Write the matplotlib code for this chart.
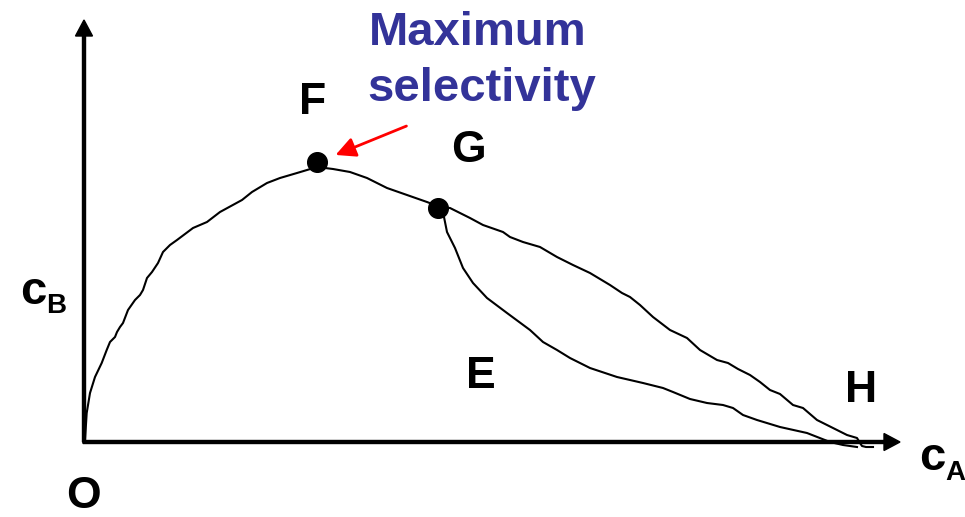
import matplotlib.pyplot as plt

# upper branch O -> F -> G -> H (picture coordinates, y grows downwards)
upper_x = [84, 85, 86.7, 90, 95, 101.7, 106.7, 110, 115, 117, 120, 123, 128, 135, 140, 143,
           147, 152, 158, 163, 170, 177, 193, 207, 220, 242, 252, 267, 280, 297, 317, 333,
           350, 367, 387, 407, 427, 440, 450, 470, 483, 503, 510, 523, 540, 557, 573, 590,
           610, 622, 630, 640, 653, 670, 687, 700, 717, 728, 738, 750, 760, 770, 780, 793,
           803, 817, 833, 847, 857, 860, 862, 866, 873]
upper_y = [442, 440, 413, 393, 377, 363, 350, 342, 337, 332, 327, 323, 310, 300, 295, 290,
           278, 272, 263, 252, 245, 240, 228, 222, 212, 200, 192, 183, 178, 173, 167, 169,
           172, 178, 188, 195, 202, 207, 208, 218, 225, 232, 237, 242, 247, 257, 265, 273,
           285, 293, 297, 305, 317, 330, 338, 350, 360, 363, 369, 375, 382, 390, 394, 405,
           408, 420, 428, 435, 438, 443, 446, 447, 447]

# lower branch G -> E -> H
lower_x = [440, 443, 447, 455, 463, 473, 487, 507, 530, 543, 557, 570, 590, 617, 643, 663,
           673, 690, 707, 723, 733, 743, 757, 780, 807, 830, 843, 857]
lower_y = [208, 212, 232, 248, 268, 283, 298, 313, 330, 342, 350, 358, 368, 377, 383, 388,
           392, 399, 403, 405, 408, 415, 420, 427, 433, 442, 445, 447]

points_x = [317, 438]
points_y = [162, 208]

point_labels = ['F', 'G', 'E', 'H', 'O']
label_x = [313, 468, 481, 861, 83]
label_y = [103, 150, 376, 391, 497]

fig = plt.figure(figsize=(9.65, 5.17), dpi=100)
ax = fig.add_axes([0, 0, 1, 1])
ax.set_xlim(0, 965)
ax.set_ylim(517, 0)
ax.axis('off')

# axes with arrows
ax.arrow(84, 442, 0, -422, width=3, head_width=17, head_length=16,
         length_includes_head=True, color='black')
ax.arrow(83, 442, 817, 0, width=3, head_width=17, head_length=16,
         length_includes_head=True, color='black')

ax.plot(upper_x, upper_y, color='black', lw=1.5, solid_joinstyle='round')
ax.plot(lower_x, lower_y, color='black', lw=1.5, solid_joinstyle='round')
ax.scatter(points_x, points_y, s=200, color='black', zorder=3)

font = dict(family=['Liberation Sans', 'DejaVu Sans'], weight='bold')
for lab, x, y in zip(point_labels, label_x, label_y):
    ax.text(x, y, lab, fontsize=32, ha='center', va='center', **font)

# axis titles
ax.text(20, 304, 'c', fontsize=34, ha='left', va='baseline', **font)
ax.text(46, 313, 'B', fontsize=20, ha='left', va='baseline', **font)
ax.text(919, 470, 'c', fontsize=34, ha='left', va='baseline', **font)
ax.text(945, 480, 'A', fontsize=20, ha='left', va='baseline', **font)

# annotation
ax.text(478, 45, 'Maximum', fontsize=34, color='#333399', ha='center', va='baseline', **font)
ax.text(482, 101, 'selectivity', fontsize=34, color='#333399', ha='center', va='baseline', **font)
ax.annotate('', xy=(333, 156), xytext=(409, 125),
            arrowprops=dict(arrowstyle='-|>', color='red', lw=2, mutation_scale=30))

fig.savefig('out.png', dpi=100)
